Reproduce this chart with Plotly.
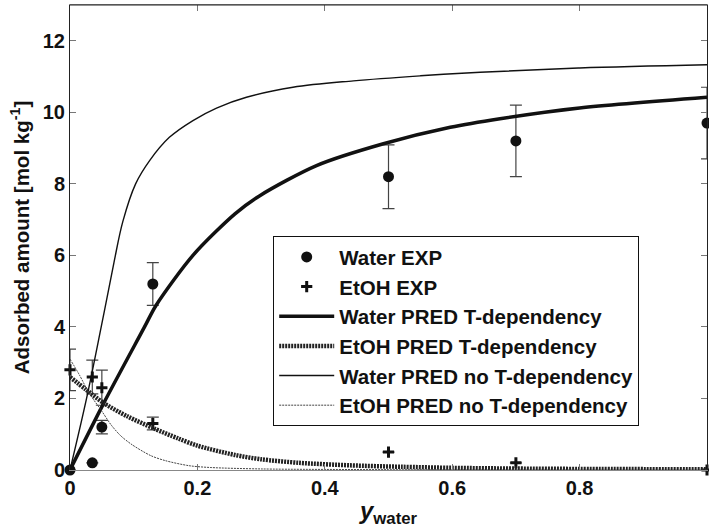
import plotly.graph_objects as go

# Experimental data
x_exp = [0.0, 0.035, 0.05, 0.13, 0.5, 0.7, 1.0]
water_exp = [0.0, 0.2, 1.2, 5.2, 8.2, 9.2, 9.7]
water_err = [0.0, 0.0, 0.19, 0.6, 0.89, 1.0, 1.0]
etoh_exp = [2.8, 2.6, 2.3, 1.3, 0.5, 0.2, 0.0]
etoh_err = [0.58, 0.47, 0.49, 0.18, 0.0, 0.0, 0.0]

# Water PRED T-dependency (thick solid)
x_wt = [0.0, 0.053, 0.117, 0.135, 0.193, 0.259, 0.298, 0.387, 0.492, 0.597, 0.675, 0.8, 1.0]
y_wt = [0.0, 1.87, 4.0, 4.6, 6.0, 7.16, 7.67, 8.51, 9.12, 9.58, 9.82, 10.12, 10.42]

# EtOH PRED T-dependency (thick dotted)
x_et = [0.0, 0.025, 0.053, 0.09, 0.132, 0.17, 0.2, 0.259, 0.3, 0.36, 0.44, 0.52, 0.6, 0.7, 0.8, 1.0]
y_et = [2.6, 2.25, 1.87, 1.5, 1.16, 0.88, 0.68, 0.42, 0.3, 0.2, 0.13, 0.09, 0.06, 0.04, 0.03, 0.02]

# Water PRED no T-dependency (thin solid)
x_wn = [0.0, 0.026, 0.049, 0.069, 0.083, 0.103, 0.125, 0.156, 0.193, 0.23, 0.277, 0.35, 0.445, 0.55, 0.644, 0.8, 1.0]
y_wn = [0.0, 2.0, 4.0, 5.8, 6.95, 8.0, 8.65, 9.3, 9.77, 10.12, 10.42, 10.7, 10.88, 11.02, 11.12, 11.24, 11.33]

# EtOH PRED no T-dependency (thin dotted)
x_en = [0.0, 0.015, 0.03, 0.049, 0.065, 0.08, 0.098, 0.127, 0.15, 0.187, 0.22, 0.3, 0.5, 1.0]
y_en = [3.1, 2.65, 2.15, 1.67, 1.25, 0.95, 0.7, 0.4, 0.26, 0.12, 0.07, 0.03, 0.01, 0.0]

x_ticks = [0, 0.2, 0.4, 0.6, 0.8, 1]
x_ticktext = ["0", "0.2", "0.4", "0.6", "0.8", "1"]
y_ticks = [0, 2, 4, 6, 8, 10, 12]

FONT = "Liberation Sans, Arial, sans-serif"
ERR = dict(color="#444", thickness=1.2, width=6)

fig = go.Figure()

# error bars (clipped at the axes)
fig.add_trace(go.Scatter(
    x=x_exp, y=water_exp, mode="markers", showlegend=False, hoverinfo="skip",
    marker=dict(size=1, opacity=0),
    error_y=dict(type="data", array=water_err, visible=True, **ERR)))
fig.add_trace(go.Scatter(
    x=x_exp, y=etoh_exp, mode="markers", showlegend=False, hoverinfo="skip",
    marker=dict(size=1, opacity=0),
    error_y=dict(type="data", array=etoh_err, visible=True, **ERR)))

fig.add_trace(go.Scatter(
    x=x_exp, y=water_exp, mode="markers", name="<b>Water EXP</b>",
    marker=dict(symbol="circle", size=11, color="#111"),
    cliponaxis=False, legendgroup="a"))

fig.add_trace(go.Scatter(
    x=x_exp, y=etoh_exp, mode="markers", name="<b>EtOH EXP</b>",
    marker=dict(symbol="cross-thin", size=8, color="#111", line=dict(width=3, color="#111")),
    cliponaxis=False, legendgroup="b"))

fig.add_trace(go.Scatter(
    x=x_wt, y=y_wt, mode="lines", name="<b>Water PRED T-dependency</b>",
    line=dict(color="#111", width=3.5, shape="spline", smoothing=0.8), legendgroup="c"))

fig.add_trace(go.Scatter(
    x=x_et, y=y_et, mode="lines", name="<b>EtOH PRED T-dependency</b>",
    line=dict(color="#222", width=4.5, dash="2px,1px", shape="spline", smoothing=0.8), legendgroup="d"))

fig.add_trace(go.Scatter(
    x=x_wn, y=y_wn, mode="lines", name="<b>Water PRED no T-dependency</b>",
    line=dict(color="#111", width=1.4, shape="spline", smoothing=1.0), legendgroup="e"))

fig.add_trace(go.Scatter(
    x=x_en, y=y_en, mode="lines", name="<b>EtOH PRED no T-dependency</b>",
    line=dict(color="#444", width=1, dash="2px,1px", shape="spline", smoothing=0.8), legendgroup="f"))

fig.update_layout(
    width=709, height=532,
    margin=dict(l=70, r=2, t=5, b=62),
    paper_bgcolor="white", plot_bgcolor="white",
    font=dict(family=FONT, color="#111"),
    showlegend=True,
    legend=dict(
        x=0.319, y=0.503, xanchor="left", yanchor="top",
        bgcolor="white", bordercolor="#111", borderwidth=1,
        font=dict(family=FONT, size=20.5, color="#111"),
        itemwidth=55, tracegroupgap=4, traceorder="normal",
    ),
    xaxis=dict(
        range=[0, 1], tickvals=x_ticks, ticktext=x_ticktext,
        ticks="inside", ticklen=6, tickcolor="#777",
        showline=True, linecolor="#888", linewidth=1, mirror="ticks",
        showgrid=False, zeroline=False,
        tickfont=dict(family=FONT, size=20, color="#111", weight="bold"),
        title=dict(text="<b><i>y</i></b><sub><b>water</b></sub>",
                   font=dict(family=FONT, size=24, color="#111"), standoff=4),
    ),
    yaxis=dict(
        range=[0, 13], tickvals=y_ticks,
        ticks="inside", ticklen=6, tickcolor="#777",
        showline=True, linecolor="#222", linewidth=1, mirror="ticks",
        showgrid=False, zeroline=False,
        tickfont=dict(family=FONT, size=20, color="#111", weight="bold"),
        title=dict(text="<b>Adsorbed amount [mol kg<sup>-1</sup>]</b>",
                   font=dict(family=FONT, size=20.5, color="#111"), standoff=7),
    ),
    shapes=[dict(type="line", xref="paper", yref="paper", x0=0, x1=1, y0=1, y1=1,
                 line=dict(color="#222", width=1))],
)

fig.write_html("out.html")
